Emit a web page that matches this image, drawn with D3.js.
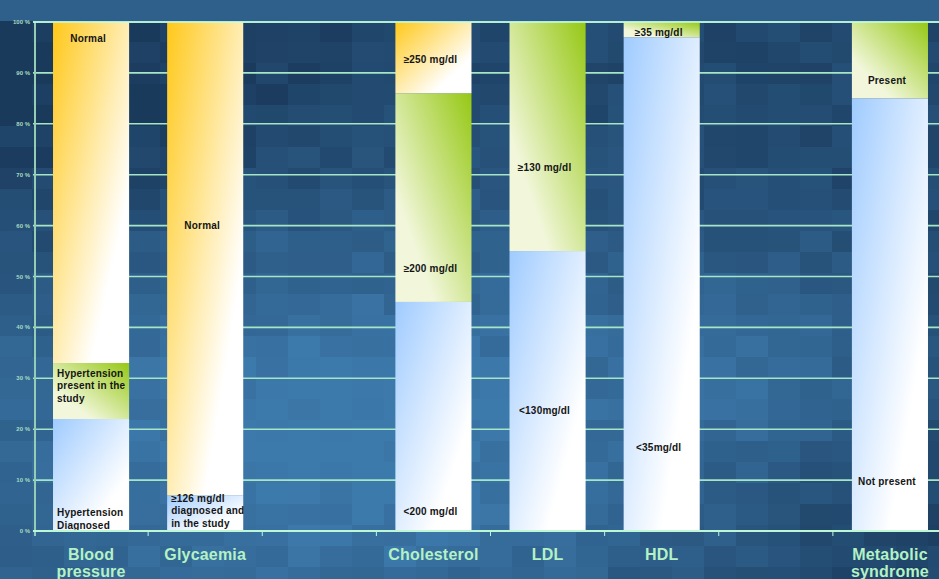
<!DOCTYPE html>
<html lang="en">
<head>
<meta charset="UTF-8">
<title>Risk factors</title>
<style>
    body { margin: 0; background: #2a5a88; }
    svg { display: block; font-family: "Liberation Sans", Arial, sans-serif; }
</style>
</head>
<body>
<svg id="chart"></svg>
<script src="https://cdn.jsdelivr.net/npm/d3@7/dist/d3.min.js"></script>
<script>
    const categories = ['Blood pressure', 'Glycaemia', '', 'Cholesterol', 'LDL', 'HDL', '', 'Metabolic syndrome']

    // stacked shares in %, bottom to top
    const segValues = [[22, 11, 67], [7, 93], [], [45, 41, 14], [55, 45], [97, 3], [], [85, 15]]
    const segFills = [['blue', 'green', 'orange'], ['blue', 'orange'], [], ['blue', 'green', 'orange'],
        ['blue', 'green'], ['blue', 'green'], [], ['blue', 'green']]
    const segLabels = [
        [['Hypertension', 'Diagnosed'], ['Hypertension', 'present in the', 'study'], ['Normal']],
        [['\u2265126 mg/dl', 'diagnosed and', 'in the study'], ['Normal']],
        [],
        [['<200 mg/dl'], ['\u2265200 mg/dl'], ['\u2265250 mg/dl']],
        [['<130mg/dl'], ['\u2265130 mg/dl']],
        [['<35mg/dl'], ['\u226535 mg/dl']],
        [],
        [['Not present'], ['Present']]
    ]
    // where each label's first baseline sits, in %
    const labelAt = [[2.9, 30.3, 96], [5.7, 59.3], [], [3.1, 50.9, 91.9], [23, 70.7], [15.7, 97.2], [], [9, 87.8]]
    const yTicks = [0, 10, 20, 30, 40, 50, 60, 70, 80, 90, 100]

    const W = 939, H = 579
    const svg = d3.select('#chart').attr('width', W).attr('height', H)
    const defs = svg.append('defs')

    // mosaic background
    const bgDark = '#1a3a5c', bgLight = '#3d7aac'
    const tileW = 32, tileH = 21
    const tiles = []
    for (let r = 0; r * tileH < H; r++) {
        for (let c = 0; c * tileW < W; c++) {
            const cx = c * tileW + tileW / 2, cy = r * tileH + tileH / 2
            let t = 0.85 * Math.exp(-(Math.pow((cx - 330) / 420, 2) + Math.pow((cy - 440) / 230, 2)))
            t += 0.35 * Math.exp(-(Math.pow((cx - 780) / 160, 2) + Math.pow((cy - 360) / 110, 2)))
            t -= 0.25 * Math.exp(-(Math.pow((cx - 80) / 260, 2) + Math.pow((cy - 90) / 150, 2)))
            t -= 0.15 * Math.exp(-(Math.pow((cx - 880) / 150, 2) + Math.pow((cy - 520) / 120, 2)))
            const h = Math.sin(c * 12.9898 + r * 78.233) * 43758.5453
            t += ((h - Math.floor(h)) - 0.5) * 0.22
            if (cy < 20) t = 0.4
            tiles.push({x: c * tileW, y: r * tileH, t: Math.max(0, Math.min(1, t + 0.2))})
        }
    }
    const bgColor = d3.interpolateRgb(bgDark, bgLight)
    svg.append('g').selectAll('rect').data(tiles).join('rect')
        .attr('x', d => d.x).attr('y', d => d.y)
        .attr('width', tileW + 0.5).attr('height', tileH + 0.5)
        .attr('fill', d => bgColor(d.t))

    // gradients
    const grads = {
        blue: {x1: 0, y1: 0, x2: 1, y2: 1, from: '#9fcbff', to: '#ffffff'},
        green: {x1: 1, y1: 0, x2: 0, y2: 1, from: '#96c814', to: '#f2f7dc'},
        orange: {x1: 0, y1: 0, x2: 1, y2: 1, from: '#ffc819', to: '#ffffff'}
    }
    Object.entries(grads).forEach(([k, g]) => {
        const lg = defs.append('linearGradient').attr('id', 'g-' + k)
            .attr('x1', g.x1).attr('y1', g.y1).attr('x2', g.x2).attr('y2', g.y2)
        lg.append('stop').attr('offset', '0%').attr('stop-color', g.from)
        lg.append('stop').attr('offset', '75%').attr('stop-color', g.to)
    })

    const x = d3.scaleBand().domain(d3.range(categories.length)).range([34, 947])
        .paddingInner(1 / 3).paddingOuter(1 / 6)
    const y = d3.scaleLinear().domain([0, 100]).range([531, 22])

    // gridlines
    svg.append('g').selectAll('line').data(yTicks.slice(1)).join('line')
        .attr('x1', 33).attr('x2', W)
        .attr('y1', d => y(d)).attr('y2', d => y(d))
        .attr('stroke', '#a6e6c6').attr('stroke-width', 1.6)

    // stacked bars
    const segs = []
    segValues.forEach((vals, i) => {
        let acc = 0
        vals.forEach((v, j) => {
            segs.push({i, j, y0: acc, y1: acc + v, fill: segFills[i][j]})
            acc += v
        })
    })
    svg.append('g').selectAll('rect').data(segs).join('rect')
        .attr('x', d => x(d.i))
        .attr('width', x.bandwidth())
        .attr('y', d => y(d.y1))
        .attr('height', d => y(d.y0) - y(d.y1))
        .attr('fill', d => 'url(#g-' + d.fill + ')')

    // segment labels
    const labs = []
    segLabels.forEach((ls, i) => ls.forEach((lines, j) => labs.push({i, lines, at: labelAt[i][j]})))
    const labX = d => d.lines.length > 1 ? x(d.i) + 4 : x(d.i) + x.bandwidth() / 2 - 3
    const lt = svg.append('g').selectAll('text').data(labs).join('text')
        .attr('font-size', 10).attr('font-weight', 'bold').attr('fill', '#141414')
        .attr('letter-spacing', 0.2)
        .attr('text-anchor', d => d.lines.length > 1 ? 'start' : 'middle')
        .attr('y', d => y(d.at))
    lt.selectAll('tspan').data(d => d.lines.map(s => ({s, d}))).join('tspan')
        .attr('x', t => labX(t.d))
        .attr('dy', (t, k) => k === 0 ? 0 : 12.5)
        .text(t => t.s)

    // y axis
    const yAxis = svg.append('g')
    yAxis.append('line').attr('x1', 35).attr('x2', 35).attr('y1', y(100)).attr('y2', y(0) + 5)
        .attr('stroke', '#94cdb4').attr('stroke-width', 2)
    yAxis.selectAll('text').data(yTicks).join('text')
        .attr('x', 30).attr('y', d => y(d) + 2)
        .attr('text-anchor', 'end').attr('font-size', 6).attr('font-weight', 'bold')
        .attr('fill', '#a6dcc2')
        .text(d => d + ' %')
    svg.append('line').attr('x1', 33).attr('x2', W).attr('y1', y(100)).attr('y2', y(100))
        .attr('stroke', '#c4ffe2').attr('stroke-width', 1.6)

    // x axis
    svg.append('line').attr('x1', 33).attr('x2', W).attr('y1', y(0)).attr('y2', y(0))
        .attr('stroke', '#bdf7d6').attr('stroke-width', 2)
    const step = x.step()
    svg.append('g').selectAll('line').data(d3.range(1, categories.length)).join('line')
        .attr('x1', i => x(i) - step * x.paddingInner() / 2)
        .attr('x2', i => x(i) - step * x.paddingInner() / 2)
        .attr('y1', y(0)).attr('y2', y(0) + 5)
        .attr('stroke', '#bdf7d6').attr('stroke-width', 1)

    const cl = svg.append('g').selectAll('text').data(categories.map((c, i) => ({c, i})).filter(d => d.c))
        .join('text')
        .attr('text-anchor', 'middle').attr('font-size', 16).attr('font-weight', 'bold')
        .attr('fill', '#b4f2c6').attr('letter-spacing', 0.2)
        .attr('y', 560)
    cl.selectAll('tspan').data(d => (d.c.indexOf(' ') > 0 ? d.c.split(' ') : [d.c]).map(s => ({s, i: d.i})))
        .join('tspan')
        .attr('x', t => x(t.i) + x.bandwidth() / 2)
        .attr('dy', (t, k) => k === 0 ? 0 : 17)
        .text(t => t.s)
</script>
</body>
</html>
